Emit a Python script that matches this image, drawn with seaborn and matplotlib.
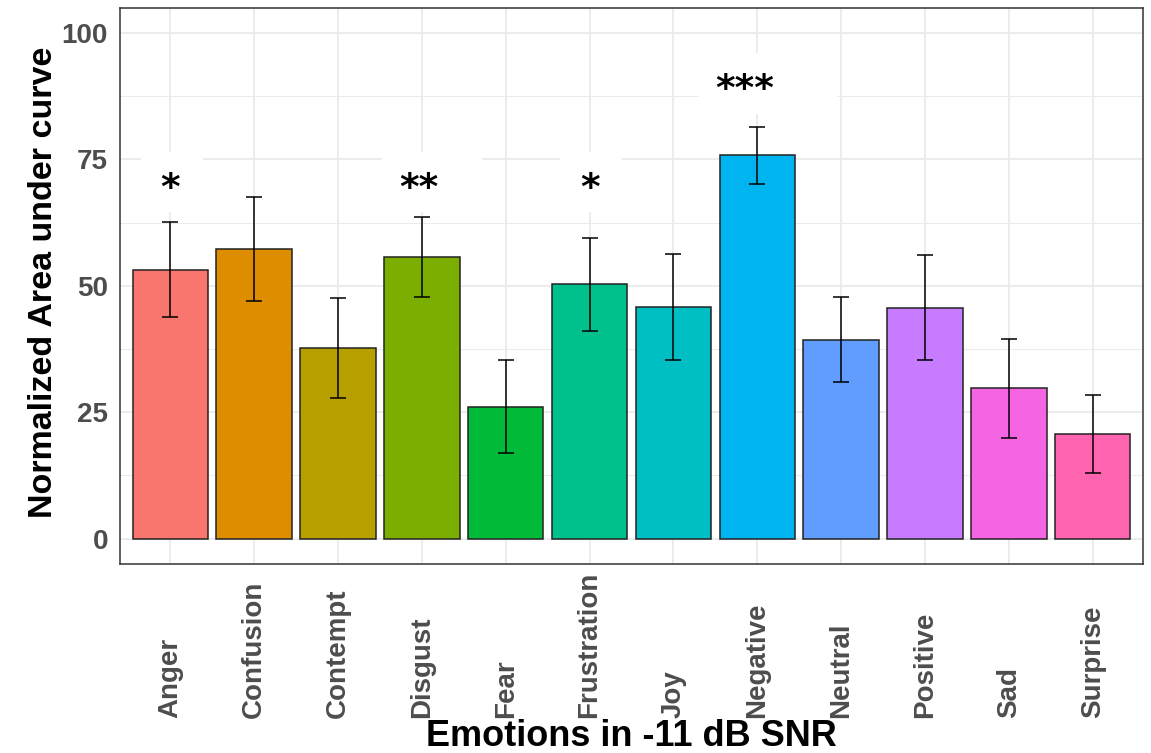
import numpy as np
import pandas as pd
import seaborn as sns
import matplotlib
matplotlib.use("Agg")
import matplotlib.pyplot as plt
from matplotlib.patches import Rectangle
from matplotlib.ticker import MultipleLocator

# ---- data ----
categories = ["Anger", "Confusion", "Contempt", "Disgust", "Fear", "Frustration",
              "Joy", "Negative", "Neutral", "Positive", "Sad", "Surprise"]
means = [53.2, 57.2, 37.7, 55.7, 26.1, 50.3, 45.8, 75.8, 39.3, 45.7, 29.7, 20.7]
errors = [9.45, 10.3, 9.8, 7.85, 9.15, 9.15, 10.55, 5.6, 8.4, 10.4, 9.7, 7.75]
sig_labels = ["*", "", "", "**", "", "*", "", "***", "", "", "", ""]
sig_y = [70.5, 0, 0, 70.5, 0, 70.5, 0, 90.0, 0, 0, 0, 0]
y_ticks = [0, 25, 50, 75, 100]
colors = ["#F8766D", "#DE8C00", "#B79F00", "#7CAE00", "#00BA38", "#00C08B",
          "#00BFC4", "#00B4F0", "#619CFF", "#C77CFF", "#F564E3", "#FF64B0"]

sns.set_theme(style="white")
plt.rcParams["font.family"] = ["Liberation Sans", "DejaVu Sans"]

W, H = 1151, 753
fig = plt.figure(figsize=(W / 100, H / 100), dpi=100)
px_l, px_r, px_t, px_b = 120, 1143, 7.5, 564
ax = fig.add_axes([px_l / W, 1 - px_b / H, (px_r - px_l) / W, (px_b - px_t) / H])

df = pd.DataFrame({"emotion": categories, "auc": means})
sns.barplot(data=df, x="emotion", y="auc", hue="emotion", palette=colors,
            saturation=1, width=0.9, edgecolor="#222222", linewidth=1.1,
            legend=False, ax=ax, zorder=2)

xpos = np.arange(len(categories))
ax.errorbar(xpos, means, yerr=errors, fmt="none", ecolor="black",
            elinewidth=1.1, capsize=6, capthick=1.1, zorder=3)

ax.set_xlim(-0.6, len(categories) - 0.4)
ax.set_ylim(-5, 105)
ax.yaxis.set_minor_locator(MultipleLocator(12.5))
ax.set_axisbelow(True)
ax.grid(which="major", color="#EBEBEB", linewidth=1.3)
ax.grid(which="minor", axis="y", color="#EBEBEB", linewidth=0.7)

ax.set_xticks(xpos, labels=categories, rotation=90, fontweight="bold",
              va="bottom", ha="center")
ax.set_yticks(y_ticks, labels=[str(v) for v in y_ticks], fontweight="bold")
ax.tick_params(axis="both", which="major", length=6.5, width=1.0,
               color="#333333", labelsize=20, labelcolor="#4D4D4D")
ax.tick_params(axis="x", pad=104.4)
ax.tick_params(axis="y", pad=2.2)
ax.tick_params(which="minor", length=0)

for s in ax.spines.values():
    s.set_color("#333333")
    s.set_linewidth(1.1)
    s.set_visible(True)

# significance labels with white boxes
box_w = {1: 0.74, 2: 1.2, 3: 1.65}
box_dx = {1: 0.02, 2: 0.12, 3: 0.13}
txt_dx = {1: 0.0, 2: -0.03, 3: -0.15}
for i, (lab, yv) in enumerate(zip(sig_labels, sig_y)):
    if not lab:
        continue
    n = len(lab)
    w = box_w[n]
    ax.add_patch(Rectangle((i + box_dx[n] - w / 2, yv - 6), w, 12,
                           facecolor="white", edgecolor="none", zorder=1.5))
    ax.text(i + txt_dx[n], yv - 1.4, lab, ha="center", va="center",
            fontsize=27, fontweight="bold", color="black", zorder=4,
            family="DejaVu Sans")

ax.set_xlabel("Emotions in -11 dB SNR", fontsize=26, fontweight="bold", color="black")
ax.xaxis.set_label_coords(0.5, (px_b - 746) / (px_b - px_t))
ax.xaxis.label.set_va("baseline")
ax.set_ylabel("Normalized Area under curve", fontsize=24.5, fontweight="bold", color="black")
ax.yaxis.set_label_coords((52 - px_l) / (px_r - px_l), (px_b - 282.5) / (px_b - px_t))
ax.yaxis.label.set_va("baseline")

fig.savefig("out.png", dpi=100)
